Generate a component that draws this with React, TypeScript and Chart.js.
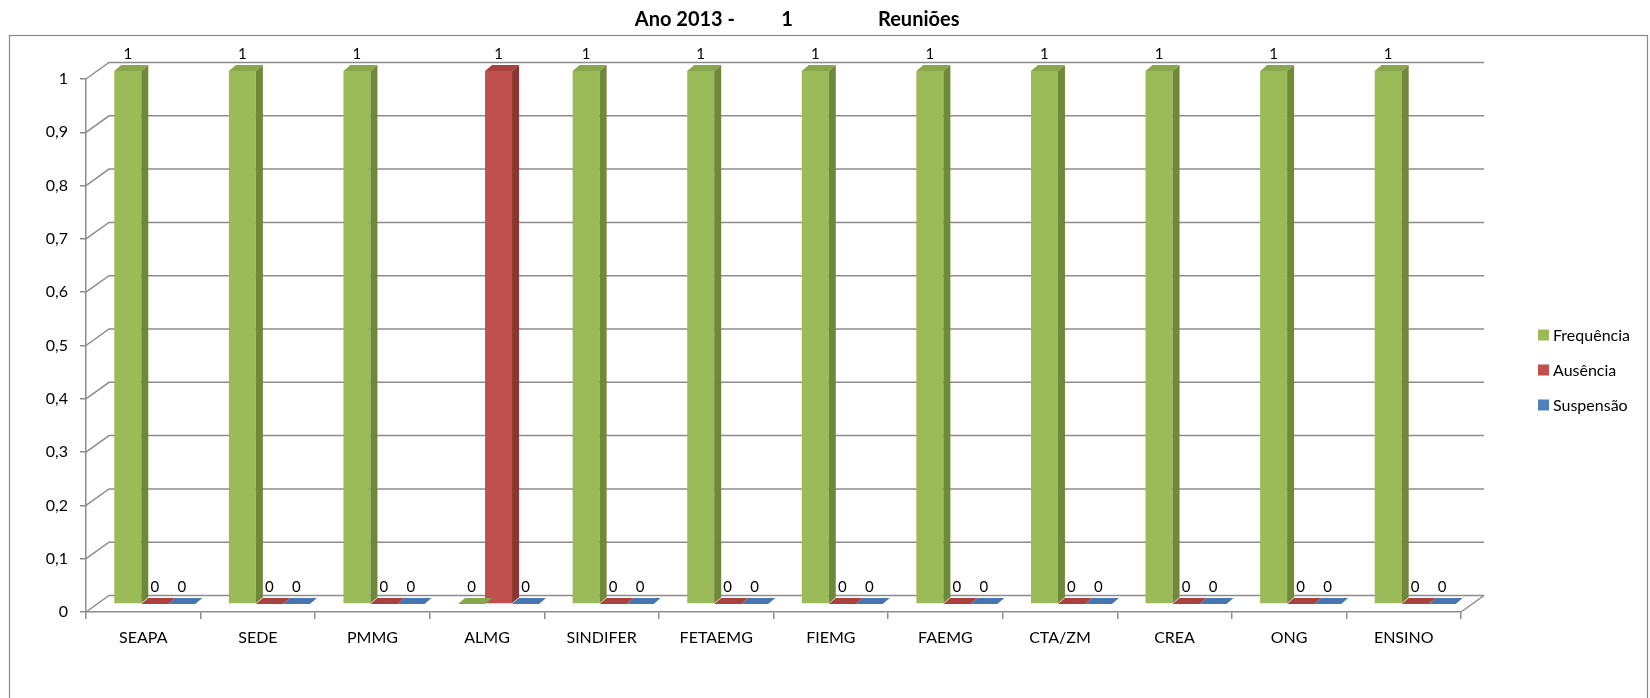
import React, { useEffect, useRef } from "react";
import { Chart, registerables } from "chart.js";

Chart.register(...registerables);

const categories = ["SEAPA", "SEDE", "PMMG", "ALMG", "SINDIFER", "FETAEMG", "FIEMG", "FAEMG", "CTA/ZM", "CREA", "ONG", "ENSINO"];
const frequencia = [1, 1, 1, 0, 1, 1, 1, 1, 1, 1, 1, 1];
const ausencia = [0, 0, 0, 1, 0, 0, 0, 0, 0, 0, 0, 0];
const suspensao = [0, 0, 0, 0, 0, 0, 0, 0, 0, 0, 0, 0];
const seriesNames = ["Frequência", "Ausência", "Suspensão"];
const titleParts = ["Ano 2013 -", "1", "Reuniões"];
const yMin = 0;
const yMax = 1;
const yStep = 0.1;

const FONT = "Lato, 'Open Sans', sans-serif";
const GRID = "#8c8c8c";
const DEPTH_DX = 23;
const DEPTH_DY = -16.5;
const MID_DX = 11.5;
const MID_DY = -8;
const BAR_DX = 7;
const BAR_DY = -6;

const faces = [
  { front: "#9BBB59", side: "#6E8937", top: "#88A64B" },
  { front: "#C0504D", side: "#8C3532", top: "#A9413E" },
  { front: "#4F81BD", side: "#395F91", top: "#4675AF" },
];

function poly(ctx: CanvasRenderingContext2D, pts: number[][], color: string) {
  ctx.beginPath();
  ctx.moveTo(pts[0][0], pts[0][1]);
  for (let i = 1; i < pts.length; i++) ctx.lineTo(pts[i][0], pts[i][1]);
  ctx.closePath();
  ctx.fillStyle = color;
  ctx.fill();
}

const threeD = {
  id: "threeD",
  beforeDatasetsDraw(chart: any) {
    const { ctx, chartArea, scales } = chart;
    const y = scales.y;
    ctx.save();
    ctx.strokeStyle = GRID;
    ctx.lineWidth = 1.5;
    y.ticks.forEach((t: any) => {
      const py = y.getPixelForValue(t.value);
      ctx.beginPath();
      ctx.moveTo(chartArea.left, py);
      ctx.lineTo(chartArea.left + DEPTH_DX, py + DEPTH_DY);
      ctx.lineTo(chartArea.right + DEPTH_DX, py + DEPTH_DY);
      ctx.stroke();
    });
    ctx.beginPath();
    ctx.moveTo(chartArea.right, chartArea.bottom);
    ctx.lineTo(chartArea.right + DEPTH_DX, chartArea.bottom + DEPTH_DY);
    ctx.stroke();
    ctx.restore();
  },
  beforeDatasetDraw(chart: any) {
    chart.ctx.save();
    chart.ctx.translate(MID_DX, MID_DY);
  },
  afterDatasetDraw(chart: any, args: any) {
    const { ctx } = chart;
    const f = faces[args.index];
    args.meta.data.forEach((bar: any) => {
      const p = bar.getProps(["x", "y", "base", "width"], true);
      const l = p.x - p.width / 2;
      const r = p.x + p.width / 2;
      const t = Math.min(p.y, p.base);
      const b = Math.max(p.y, p.base);
      if (b - t > 0.5) {
        poly(ctx, [[r, t], [r + BAR_DX, t + BAR_DY], [r + BAR_DX, b + BAR_DY], [r, b]], f.side);
        poly(ctx, [[l, t], [r, t], [r + BAR_DX, t + BAR_DY], [l + BAR_DX, t + BAR_DY]], f.top);
      } else {
        poly(ctx, [[l, b], [r, b], [r + BAR_DX, b + BAR_DY], [l + BAR_DX, b + BAR_DY]], f.top);
      }
    });
    ctx.restore();
  },
  afterDatasetsDraw(chart: any) {
    const { ctx } = chart;
    ctx.save();
    ctx.translate(MID_DX, MID_DY);
    ctx.fillStyle = "#000";
    ctx.font = `15px ${FONT}`;
    ctx.textAlign = "center";
    ctx.textBaseline = "middle";
    chart.data.datasets.forEach((ds: any, di: number) => {
      const meta = chart.getDatasetMeta(di);
      meta.data.forEach((bar: any, i: number) => {
        const p = bar.getProps(["x", "y", "base"], true);
        ctx.fillText(String(ds.data[i]), p.x, Math.min(p.y, p.base) - 17);
      });
    });
    ctx.restore();

    ctx.save();
    ctx.font = `16px ${FONT}`;
    ctx.textBaseline = "middle";
    ctx.textAlign = "left";
    chart.data.datasets.forEach((ds: any, di: number) => {
      const cy = 335 + di * 35;
      ctx.fillStyle = ds.backgroundColor;
      ctx.fillRect(1538, cy - 5.5, 11, 11);
      ctx.fillStyle = "#000";
      ctx.fillText(ds.label, 1553, cy + 1);
    });
    ctx.font = `bold 20px ${FONT}`;
    ctx.textAlign = "right";
    ctx.fillText(titleParts[0], 735, 20);
    ctx.textAlign = "center";
    ctx.fillText(titleParts[1], 787, 20);
    ctx.textAlign = "left";
    ctx.fillText(titleParts[2], 878, 20);
    ctx.strokeStyle = "#8a8a8a";
    ctx.lineWidth = 1.2;
    ctx.strokeRect(9.5, 35.5, 1638, 720);
    ctx.restore();
  },
};

export default function App() {
  const ref = useRef<HTMLCanvasElement>(null);
  useEffect(() => {
    document.body.style.margin = "0";
    const canvas = ref.current!;
    const chart = new Chart(canvas, {
      type: "bar",
      data: {
        labels: categories,
        datasets: [
          { label: seriesNames[0], data: frequencia, backgroundColor: faces[0].front },
          { label: seriesNames[1], data: ausencia, backgroundColor: faces[1].front },
          { label: seriesNames[2], data: suspensao, backgroundColor: faces[2].front },
        ],
      },
      options: {
        responsive: false,
        animation: false,
        events: [],
        layout: { padding: { left: 0, top: 79, right: 189, bottom: 0 } },
        datasets: { bar: { categoryPercentage: 0.707, barPercentage: 1, clip: false as any } },
        plugins: { legend: { display: false }, title: { display: false }, tooltip: { enabled: false } },
        scales: {
          x: {
            grid: { offset: true, drawOnChartArea: false, drawTicks: true, tickLength: 7, color: GRID, lineWidth: 1.5 },
            border: { display: true, color: GRID, width: 1.5 },
            ticks: { color: "#000", font: { family: FONT, size: 16 }, padding: 9, maxRotation: 0, autoSkip: false },
            afterFit: (s: any) => { s.height = 86; },
          },
          y: {
            min: yMin,
            max: yMax,
            grid: { drawOnChartArea: false, drawTicks: true, tickLength: 6, color: GRID, lineWidth: 1.5 },
            border: { display: true, color: GRID, width: 1.5 },
            ticks: {
              stepSize: yStep,
              color: "#000",
              font: { family: FONT, size: 16 },
              padding: 12,
              callback: (v: any) => String(Math.round(Number(v) * 10) / 10).replace(".", ","),
            },
            afterFit: (s: any) => { s.width = 86; },
          },
        },
      },
      plugins: [threeD],
    });
    return () => chart.destroy();
  }, []);
  return <canvas ref={ref} width={1650} height={698} style={{ display: "block" }} />;
}
